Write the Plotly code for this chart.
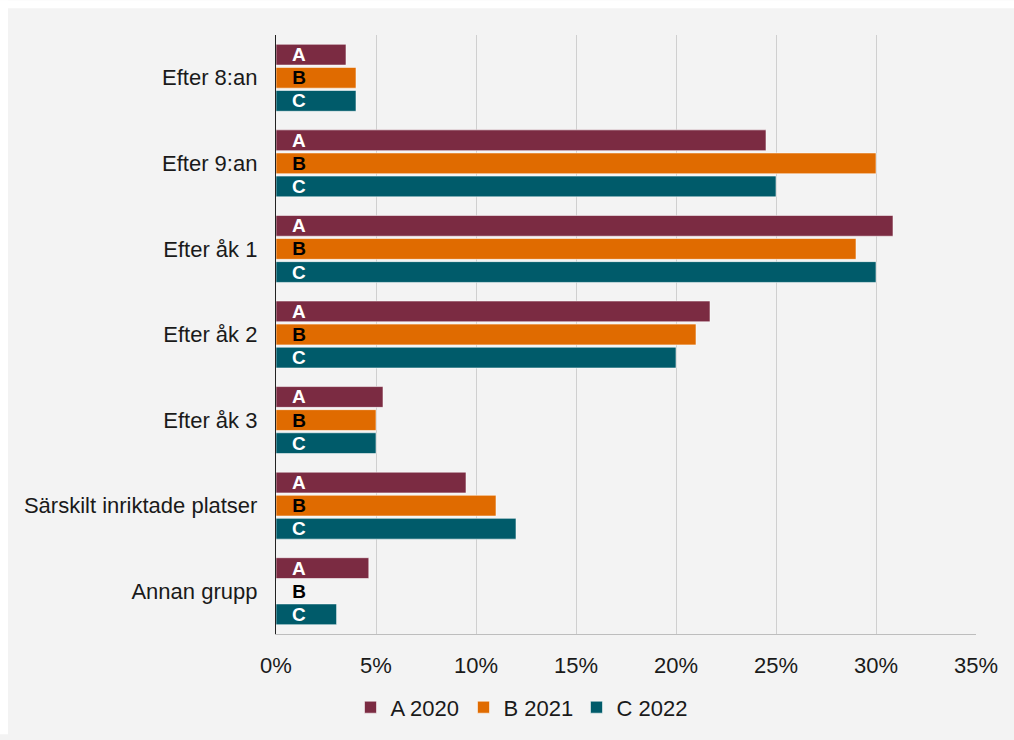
import plotly.graph_objects as go

categories = ["Efter 8:an", "Efter 9:an", "Efter åk 1", "Efter åk 2",
              "Efter åk 3", "Särskilt inriktade platser", "Annan grupp"]
a_2020 = [3.5, 24.5, 30.85, 21.7, 5.35, 9.5, 4.64]
b_2021 = [4.0, 30.0, 29.0, 21.0, 5.0, 11.0, 0.0]
c_2022 = [4.0, 25.0, 30.0, 20.0, 5.0, 12.0, 3.03]
series_names = ["A 2020", "B 2021", "C 2022"]
letters = ["A", "B", "C"]
colors = ["#7B2B42", "#E06B00", "#005B6A"]
letter_colors = ["#FFFFFF", "#000000", "#FFFFFF"]
x_ticks = [0, 5, 10, 15, 20, 25, 30, 35]
x_tick_labels = [f"{v}%" for v in x_ticks]

FONT = "Liberation Sans, Arial, sans-serif"
LABEL_W = 2.3  # width of invisible label carrier bars (percent units)

W, H = 1014, 740
ML, MR, MT, MB = 276, 38, 35, 101
PW, PH = W - ML - MR, H - MT - MB

fig = go.Figure()
for name, vals, col, grp in zip(series_names, [a_2020, b_2021, c_2022], colors, letters):
    fig.add_trace(go.Bar(
        y=categories, x=vals, name=name, orientation="h",
        marker=dict(color=col, line=dict(color="rgba(255,255,255,0.55)", width=1)),
        offsetgroup=grp, hoverinfo="x+name",
    ))
for grp, tcol in zip(letters, letter_colors):
    fig.add_trace(go.Bar(
        y=categories, x=[LABEL_W] * len(categories), orientation="h",
        marker=dict(color="rgba(0,0,0,0)", line=dict(width=0)),
        text=[grp] * len(categories), textposition="inside",
        insidetextanchor="middle", textangle=0, constraintext="none",
        textfont=dict(family=FONT, size=19, color=tcol, weight="bold"),
        offsetgroup=grp, showlegend=False, hoverinfo="skip",
    ))

# white frame at top and left (outside the grey panel)
fig.add_shape(type="rect", xref="paper", yref="paper", layer="above",
              x0=-ML / PW, x1=(8 - ML) / PW, y0=-MB / PH, y1=1 + MT / PH,
              fillcolor="white", line=dict(width=0))
fig.add_shape(type="rect", xref="paper", yref="paper", layer="above",
              x0=-ML / PW, x1=1 + MR / PW, y0=1 + (MT - 8) / PH, y1=1 + MT / PH,
              fillcolor="white", line=dict(width=0))

fig.update_layout(
    width=W, height=H,
    margin=dict(l=ML, r=MR, t=MT, b=MB),
    paper_bgcolor="#F3F3F3", plot_bgcolor="#F3F3F3",
    barmode="group", bargap=0.19, bargroupgap=0.1,
    font=dict(family=FONT, size=22, color="#1A1A1A"),
    legend=dict(orientation="h", x=(520 - ML) / PW, xanchor="center",
                y=-(713 - (MT + PH)) / PH, yanchor="middle",
                font=dict(size=22), traceorder="normal", itemclick=False,
                entrywidth=68, entrywidthmode="pixels",
                bgcolor="rgba(0,0,0,0)"),
    xaxis=dict(range=[0, 35], tickvals=x_ticks, ticktext=x_tick_labels,
               showgrid=True, gridcolor="#CFCFCF", gridwidth=1,
               zeroline=False, showline=True, linecolor="#BDBDBD", linewidth=1,
               ticks="", ticklabelstandoff=12, fixedrange=True),
    yaxis=dict(autorange="reversed", showgrid=False, zeroline=False,
               showline=True, linecolor="#222222", linewidth=1.3,
               ticks="", ticklabelstandoff=13, fixedrange=True),
)
fig.write_html("out.html", config={"displayModeBar": False},
               post_script="document.body.style.margin='0';document.body.style.overflow='hidden';"
                           "document.body.style.background='#F3F3F3';")
